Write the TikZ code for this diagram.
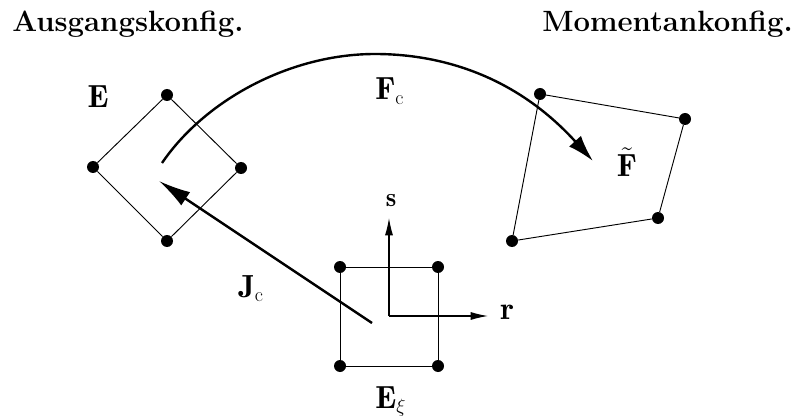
\documentclass[tikz,border=0pt]{standalone}
\usepackage{fontspec}
\usepackage{amsmath}
\usetikzlibrary{arrows.meta}
\DeclareMathSizes{24}{24}{15}{10}

\begin{document}
\begin{tikzpicture}[x=0.75pt,y=-0.75pt,
    corner/.style={circle,fill=black,inner sep=0pt,minimum size=9pt},
    element/.style={line width=0.7pt},
    bigarrow/.style={line width=1.8pt,-{Latex[length=#1,width=12pt]}},
    axis/.style={line width=0.8pt,-{Latex[length=13pt,width=6pt]}},
    symbol/.style={font=\fontsize{24}{28}\selectfont,inner sep=0pt},
    heading/.style={font=\fontsize{22}{26}\selectfont\bfseries,inner sep=0pt}]
    \useasboundingbox (0,0) rectangle (796,417);
    % reference element
    \node[corner] (ref1) at (340,267) {};
    \node[corner] (ref2) at (438,267) {};
    \node[corner] (ref3) at (438,366) {};
    \node[corner] (ref4) at (340,366) {};
    \draw[element] (ref1) -- (ref2) -- (ref3) -- (ref4) -- (ref1);
    % initial configuration
    \node[corner] (ini1) at (167,95) {};
    \node[corner] (ini2) at (241,168) {};
    \node[corner] (ini3) at (167,241) {};
    \node[corner] (ini4) at (93,167) {};
    \draw[element] (ini1) -- (ini2) -- (ini3) -- (ini4) -- (ini1);
    % current configuration
    \node[corner] (cur1) at (540,94) {};
    \node[corner] (cur2) at (685,119) {};
    \node[corner] (cur3) at (658,218) {};
    \node[corner] (cur4) at (512,241) {};
    \draw[element] (cur1) -- (cur2) -- (cur3) -- (cur4) -- (cur1);
    % axes
    \coordinate (orig) at (389,316);
    \node[symbol,font=\fontsize{20}{24}\selectfont,anchor=base] (s) at (391,207) {$\mathbf{s}$};
    \node[symbol,anchor=base west] (r) at (500,319) {$\mathbf{r}$};
    \draw[axis] (orig) -- (389,218);
    \draw[axis] (orig) -- (488,316);
    % mappings
    \coordinate (fstart) at (162,163);
    \coordinate (ftop) at (375,54);
    \coordinate (fend) at (593,161);
    \coordinate (jstart) at (372,323);
    \coordinate (jend) at (159,181);
    \draw[bigarrow=20pt] (fstart) .. controls (205,100) and (290,54) .. (ftop) .. controls (440,54) and (515,75) .. (fend);
    \draw[bigarrow=24pt] (jstart) -- (jend);
    % labels
    \node[heading,anchor=base west] (ausg) at (12,32) {Ausgangskonfig.};
    \node[heading,anchor=base east] (moment) at (793,32) {Momentankonfig.};
    \node[symbol,anchor=base] (e) at (98,108) {$\mathbf{E}$};
    \node[symbol,anchor=base west] (fc) at (375,100) {$\mathbf{F}_{\mathrm{c}}$};
    \node[symbol,anchor=base] (ft) at (627,177) {$\tilde{\mathbf{F}}$};
    \node[symbol,anchor=base west] (jc) at (238,297) {$\mathbf{J}_{\mathrm{c}}$};
    \node[symbol,anchor=base west] (exi) at (375,408) {$\mathbf{E}_{\xi}$};
  \end{tikzpicture}
\end{document}
